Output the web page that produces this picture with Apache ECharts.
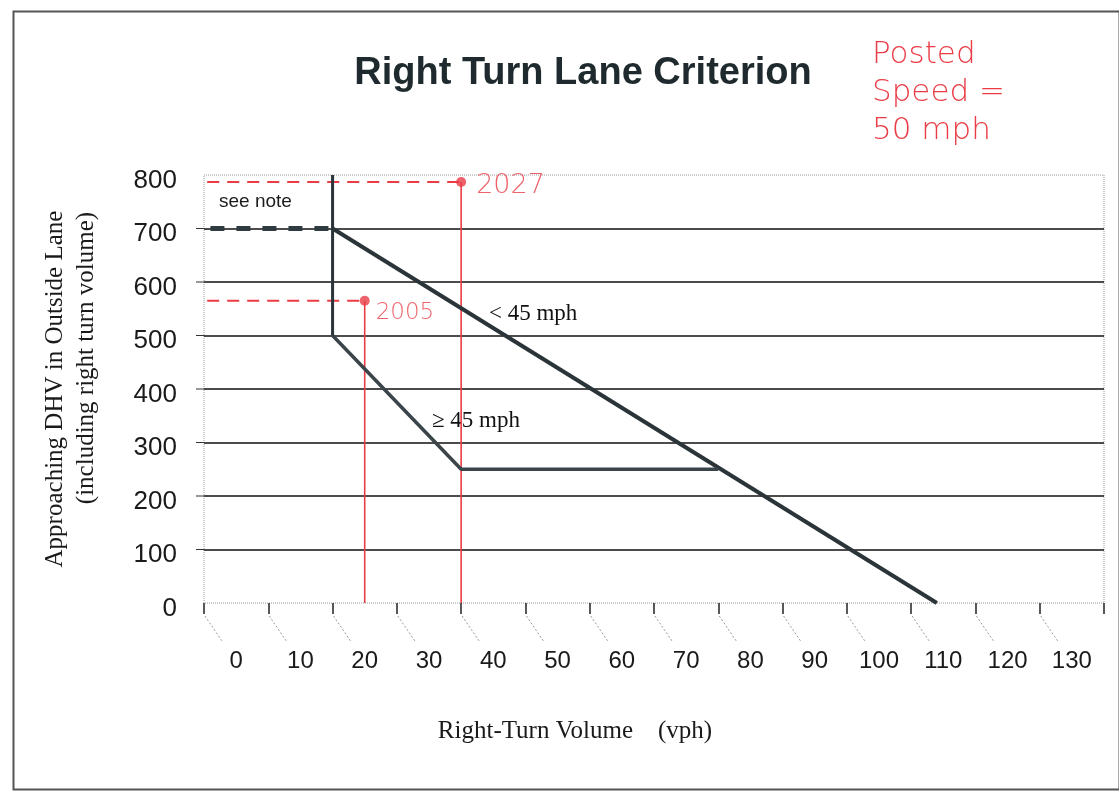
<!DOCTYPE html>
<html>
<head>
<meta charset="utf-8">
<script src="https://cdn.jsdelivr.net/npm/echarts@6/dist/echarts.min.js"></script>
<style>
  html, body { margin: 0; padding: 0; background: #fff; }
  #chart { width: 1119px; height: 793px; }
</style>
</head>
<body>
<div id="chart"></div>
<script>
// ---- data ----
const xLabelValues = [0, 10, 20, 30, 40, 50, 60, 70, 80, 90, 100, 110, 120, 130];
const xTickValues = [-5, 5, 15, 25, 35, 45, 55, 65, 75, 85, 95, 105, 115, 125, 135];
const xMin = -5;
const xMax = 135;
const yMin = 0;
const yMax = 800;
const yStep = 100;

const lessThan45 = [[15, 700], [109, 0]];            // "< 45 mph" criterion
const atLeast45 = [[15, 500], [35, 250], [75, 250]];  // ">= 45 mph" criterion
const threshold = [[15, 500], [15, 800]];             // minimum right-turn volume
const seeNote = [[-4, 700], [15, 700]];               // dashed "see note" segment

const year2005 = [20, 565];
const year2027 = [35, 787];
const leadStart = -4.5;

const titleText = 'Right Turn Lane Criterion';
const yNameLine1 = 'Approaching DHV in Outside Lane';
const yNameLine2 = '(including right turn volume)';
const xNameText = 'Right-Turn Volume    (vph)';

// ---- chart ----
const dark = '#2b3438';
const red = '#ea3c46';
const chart = echarts.init(document.getElementById('chart'), null, { renderer: 'canvas' });

function redLines(pt, label, size, offset) {
  return [
    {
      type: 'line', data: [[leadStart, pt[1]], [pt[0], pt[1]]], showSymbol: false, silent: true,
      lineStyle: { color: red, width: 2, type: [12, 8] }, z: 3
    },
    {
      type: 'line', data: [[pt[0], yMin], [pt[0], pt[1]]], showSymbol: false, silent: true,
      lineStyle: { color: red, width: 1.6 }, z: 3
    },
    {
      type: 'scatter', data: [pt], symbolSize: 10, silent: true,
      itemStyle: { color: red },
      label: {
        show: true, formatter: label, position: 'right', distance: 6,
        offset: offset,
        color: red, fontFamily: 'DejaVu Sans', fontWeight: 300, fontSize: size
      },
      z: 4
    }
  ];
}

const baseGraphic = [
  {
    type: 'rect', left: 11, top: 9, silent: true,
    shape: { width: 1106, height: 778 },
    style: { fill: 'none', stroke: '#555', lineWidth: 2 }, z: -1
  },
  {
    type: 'text', left: 219, top: 192, silent: true,
    style: { text: 'see note', font: '19px "Liberation Sans"', fill: '#1c1c1c' }
  },
  {
    type: 'text', left: 489, top: 302, silent: true,
    style: { text: '< 45 mph', font: '23px "Liberation Serif"', fill: '#111' }
  },
  {
    type: 'text', left: 432, top: 409, silent: true,
    style: { text: '\u2265 45 mph', font: '23px "Liberation Serif"', fill: '#111' }
  },
  {
    type: 'text', left: 872, top: 36, silent: true,
    style: {
      text: 'Posted\nSpeed =\n50 mph',
      font: '300 31px "DejaVu Sans"', fill: red, lineHeight: 38
    }
  }
];

const option = {
  animation: false,
  backgroundColor: '#ffffff',
  title: {
    text: titleText,
    left: 578, top: 50, textAlign: 'center',
    textStyle: { fontFamily: 'Liberation Sans', fontWeight: 'bold', fontSize: 38, color: '#1f2a2e' }
  },
  grid: {
    left: 204, right: 15, top: 175, bottom: 190,
    show: true, borderColor: '#9a9a9a', borderWidth: 1, borderType: 'dotted'
  },
  xAxis: {
    type: 'value', min: xMin, max: xMax,
    axisLine: { show: false },
    axisTick: { show: true, customValues: xTickValues, length: 11, lineStyle: { color: '#222', width: 1.5 } },
    axisLabel: {
      customValues: xLabelValues, margin: 46,
      fontFamily: 'Liberation Sans', fontSize: 24, color: '#1a1a1a'
    },
    splitLine: { show: false },
    name: xNameText, nameLocation: 'middle', nameGap: 116,
    nameTextStyle: {
      fontFamily: 'Liberation Serif', fontSize: 25, color: '#1a1a1a',
      padding: [0, 158, 0, 0]
    }
  },
  yAxis: {
    type: 'value', min: yMin, max: yMax, interval: yStep,
    axisLine: { show: false },
    axisTick: { show: false },
    axisLabel: {
      margin: 27, fontFamily: 'Liberation Sans', fontSize: 26, color: '#1a1a1a',
      formatter: function (v) { return '{n|' + v + '}'; },
      rich: { n: { fontFamily: 'Liberation Sans', fontSize: 26, color: '#1a1a1a', padding: [11, 0, 0, 0] } }
    },
    splitLine: { show: true, showMinLine: false, showMaxLine: false, lineStyle: { color: '#111', width: 1.5 } },
    name: '{a|' + yNameLine1 + '}\n{b|' + yNameLine2 + '}',
    nameLocation: 'middle', nameGap: 102,
    nameTextStyle: {
      fontFamily: 'Liberation Serif', fontSize: 25, color: '#1a1a1a',
      rich: {
        a: { fontFamily: 'Liberation Serif', fontSize: 25, color: '#1a1a1a', lineHeight: 31 },
        b: { fontFamily: 'Liberation Serif', fontSize: 25, color: '#1a1a1a', lineHeight: 31, padding: [0, 0, 0, 62] }
      }
    }
  },
  graphic: baseGraphic,
  series: [
    {
      name: '< 45 mph', type: 'line', data: lessThan45, showSymbol: false, silent: true,
      lineStyle: { color: dark, width: 4 }, z: 5
    },
    {
      name: '\u2265 45 mph', type: 'line', data: atLeast45, showSymbol: false, silent: true,
      lineStyle: { color: '#3a4449', width: 3.5 }, z: 5
    },
    {
      name: 'threshold', type: 'line', data: threshold, showSymbol: false, silent: true,
      lineStyle: { color: dark, width: 3 }, z: 5
    },
    {
      name: 'see note', type: 'line', data: seeNote, showSymbol: false, silent: true,
      lineStyle: { color: '#2f3b40', width: 5, type: [14, 12] }, z: 5
    },
    ...redLines(year2005, '2005', 23, [0, 12]),
    ...redLines(year2027, '2027', 27, [4, 4])
  ]
};

chart.setOption(option);

// small left-hand y ticks and slanted leader strokes under the x ticks, placed through the axes' scales
const extra = [];
for (let v = yMin + yStep; v < yMax; v += yStep) {
  const p = chart.convertToPixel({ gridIndex: 0 }, [xMin, v]);
  extra.push({
    type: 'line', silent: true,
    shape: { x1: p[0] - 8, y1: p[1], x2: p[0], y2: p[1] },
    style: { stroke: '#333', lineWidth: 1 }
  });
}
xTickValues.slice(0, -1).forEach(function (v) {
  const p = chart.convertToPixel({ gridIndex: 0 }, [v, yMin]);
  extra.push({
    type: 'line', silent: true,
    shape: { x1: p[0] + 1, y1: p[1] + 13, x2: p[0] + 18, y2: p[1] + 38 },
    style: { stroke: '#9a9a9a', lineWidth: 1, lineDash: [2, 2] }
  });
});
chart.setOption({ graphic: baseGraphic.concat(extra) });
</script>
</body>
</html>
